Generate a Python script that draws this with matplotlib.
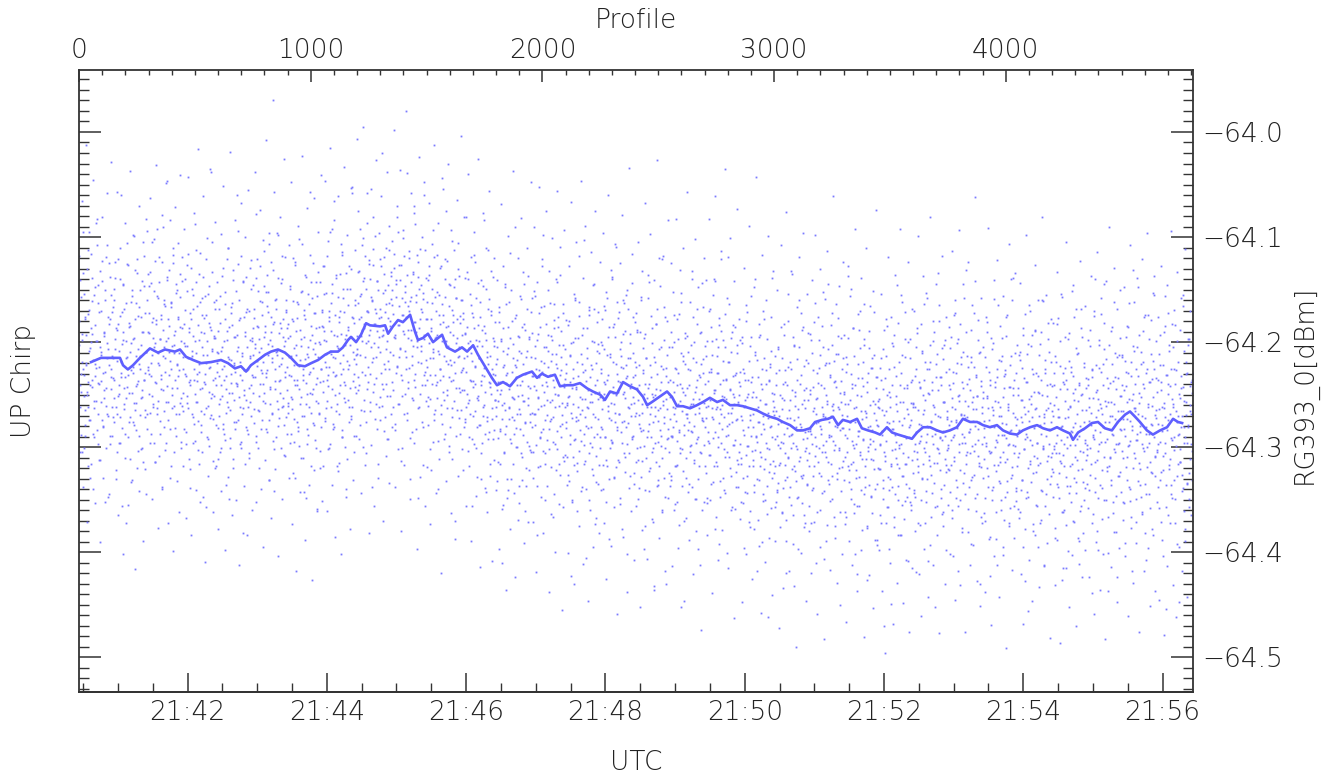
"""UP chirp power (RG393_0) per profile with running mean."""
import matplotlib
matplotlib.use("Agg")
import matplotlib.pyplot as plt
import numpy as np
from matplotlib.ticker import MultipleLocator, FuncFormatter

# sampling: 5.01 profiles per second, profile 0 at 21:40:26.5 UTC
RATE = 5.01
T0 = 21 * 3600 + 40 * 60 + 26.5
N_PROFILES = 4808
DOT_STEP = 3

# single-profile power, milli-dB below -64 dBm
# set a: profiles 0, 3, 6, ...
dot_mdb_a = [
    180, 262, 141, 230, 305, 198, 95, 251, 176, 289, 222, 130, 247, 318, 169, 208, 274, 116, 236, 192, 340, 155, 263, 221, 87,
    199, 284, 239, 146, 312, 205, 170, 257, 123, 229, 281, 190, 352, 160, 244, 215, 108, 270, 183, 297, 138, 226, 262, 171, 234,
    253, 149, 207, 330, 188, 268, 121, 241, 296, 175, 219, 60, 282, 198, 146, 259, 233, 372, 163, 214, 290, 127, 248, 185, 311,
    201, 156, 276, 229, 99, 265, 178, 242, 320, 134, 207, 289, 167, 226, 253, 142, 301, 190, 236, 118, 271, 209, 345, 160, 224,
    172, 249, 133, 220, 287, 105, 196, 262, 151, 238, 314, 179, 92, 256, 210, 143, 275, 197, 231, 338, 124, 188, 266, 160, 215,
    296, 47, 242, 178, 209, 131, 283, 226, 163, 250, 110, 203, 305, 189, 145, 268, 221, 176, 232, 362, 157, 258, 199, 119, 214,
    266, 183, 230, 140, 297, 204, 251, 116, 238, 321, 172, 215, 268, 149, 194, 278, 236, 88, 257, 210, 166, 303, 228, 135, 245,
    190, 286, 158, 212, 347, 177, 240, 121, 263, 199, 292, 154, 225, 272, 186, 38, 249, 208, 313, 162, 234, 196, 279, 143, 220,
    189, 270, 232, 156, 301, 208, 251, 129, 287, 223, 178, 336, 245, 198, 110, 262, 216, 291, 167, 239, 184, 320, 141, 255, 228,
    195, 276, 60, 242, 205, 160, 297, 231, 118, 268, 213, 382, 176, 250, 194, 138, 284, 227, 262, 170, 310, 215, 149, 241, 199,
    212, 248, 168, 206, 289, 78, 223, 151, 265, 197, 240, 128, 283, 174, 219, 256, 147, 312, 185, 233, 136, 166, 202, 274, 107,
    243, 190, 268, 215, -30, 342, 181, 226, 290, 159, 208, 264, 98, 237, 182, 301, 221, 140, 253, 195, 279, 119, 228, 171, 246,
    183, 261, 214, 147, 296, 232, 178, 254, 120, 273, 206, 329, 189, 241, 162, 285, 223, 102, 259, 197, 310, 151, 236, 270, 174,
    216, 348, 138, 249, 205, 288, 164, 228, 57, 267, 193, 245, 125, 279, 211, 172, 301, 234, 156, 258, 200, 320, 143, 226, 185,
    169, 247, 198, 128, 275, 211, 153, 236, 302, 180, 224, 95, 262, 189, 145, 283, 214, 66, 250, 174, 231, 318, 157, 206, 268,
    135, 241, 192, 290, 114, 226, 171, 257, 203, 340, 149, 218, 186, 276, 128, 244, 195, 53, 262, 177, 230, 305, 160, 212, 248,
    211, 133, 246, 178, 92, 265, 154, 199, 300, 142, 187, 231, 118, 276, 170, 58, 224, 193, 140, 257, 205, 161, 338, 127, 183,
    240, 99, 214, 172, 283, 150, 195, 262, 121, 229, 176, 20, 245, 188, 135, 271, 207, 164, 292, 146, 218, 112, 251, 180, 159,
    150, 238, 173, 116, 284, 196, 141, 223, 70, 259, 184, 127, 207, 313, 158, 236, 101, 192, 268, 147, 176, 226, 39, 244, 166,
    120, 291, 198, 157, 213, 133, 255, 181, 88, 230, 162, 205, 348, 138, 187, 249, 111, 220, 171, 276, 153, 197, 60, 241, 178,
    236, 162, 279, 201, 128, 254, 187, 322, 149, 215, 93, 268, 196, 170, 241, 117, 294, 208, 155, 226, 183, 260, 44, 232, 174,
    213, 140, 287, 199, 250, 123, 221, 166, 305, 190, 237, 104, 263, 181, 148, 219, 370, 158, 244, 196, 130, 272, 205, 175, 228,
    265, 227, 178, 322, 246, 192, 276, 81, 213, 258, 140, 290, 199, 236, 165, 356, 218, 270, 187, 240, 124, 301, 204, 253, 144,
    279, 215, 176, 330, 241, 188, 262, 84, 232, 287, 149, 198, 275, 112, 221, 159, 316, 243, 170, 226, 292, 138, 204, 255, 181,
    270, 216, 246, 314, 171, 238, 285, 199, 410, 260, 187, 222, 305, 145, 280, 231, 348, 206, 262, 162, 292, 240, 330, 180, 253,
    215, 274, 90, 300, 224, 268, 194, 251, 337, 156, 283, 210, 237, 309, 133, 256, 188, 361, 229, 295, 168, 242, 322, 197, 276,
    171, 281, 232, 329, 151, 268, 215, 298, 246, 384, 192, 264, 227, 318, 167, 286, 241, 98, 304, 220, 274, 350, 205, 255, 293,
    208, 283, 231, 163, 319, 255, 198, 271, 345, 187, 249, 140, 302, 225, 176, 316, 261, 109, 290, 214, 269, 357, 203, 243, 307,
    282, 229, 258, 326, 184, 251, 297, 212, 423, 272, 200, 234, 317, 158, 292, 243, 361, 219, 274, 175, 304, 252, 342, 193, 265,
    228, 287, 103, 313, 237, 280, 206, 263, 350, 169, 296, 222, 249, 321, 146, 268, 200, 373, 241, 308, 181, 254, 335, 210, 290,
    301, 226, 178, 264, 340, 207, 249, 290, 152, 318, 236, 195, 272, 387, 214, 258, 131, 296, 243, 183, 329, 267, 221, 109, 284,
    247, 312, 171, 238, 354, 200, 276, 225, 160, 306, 253, 189, 281, 232, 402, 168, 263, 215, 327, 240, 144, 292, 210, 258, 335,
    231, 314, 267, 190, 349, 278, 222, 300, 157, 328, 259, 206, 284, 397, 240, 192, 310, 253, 136, 285, 342, 222, 268, 175, 305,
    249, 371, 214, 296, 262, 183, 337, 230, 275, 120, 318, 246, 205, 289, 360, 226, 271, 167, 301, 254, 430, 212, 283, 238, 325,
    252, 327, 125, 289, 238, 281, 200, 354, 263, 318, 178, 294, 229, 374, 256, 306, 162, 337, 244, 213, 288, 446, 221, 310, 268,
    194, 343, 276, 241, 299, 285, 203, 338, 259, 176, 312, 247, 380, 219, 292, 148, 330, 267, 233, 305, 190, 360, 274, 216, 298,
    240, 318, 272, 199, 353, 286, 228, 307, 168, 335, 263, 212, 291, 140, 246, 378, 197, 314, 262, 229, 300, 184, 347, 268, 113,
    283, 236, 329, 271, 205, 309, 254, 401, 219, 288, 164, 320, 245, 196, 276, 357, 232, 298, 259, 186, 324, 210, 273, 338, 250,
    305, 228, 352, 270, 195, 329, 262, 396, 236, 307, 165, 344, 281, 249, 318, 204, 376, 289, 233, 312, 268, 343, 140, 303, 252,
    295, 217, 369, 276, 331, 193, 309, 245, 390, 270, 321, 178, 350, 259, 227, 301, 462, 237, 324, 281, 208, 358, 290, 256, 313,
    269, 357, 292, 229, 343, 205, 278, 317, 250, 376, 295, 215, 264, 339, 183, 306, 238, 420, 272, 328, 224, 289, 347, 255, 301,
    132, 287, 365, 203, 318, 247, 281, 332, 216, 397, 264, 160, 309, 231, 281, 353, 186, 326, 246, 304, 372, 217, 291, 336, 255,
    318, 246, 285, 372, 210, 297, 339, 263, 181, 308, 254, 410, 229, 276, 325, 198, 360, 287, 241, 305, 152, 270, 342, 222, 294,
    389, 259, 207, 314, 276, 233, 351, 289, 172, 327, 265, 218, 298, 375, 243, 281, 330, 194, 264, 303, 450, 237, 319, 282, 215,
    249, 331, 288, 214, 366, 305, 259, 137, 322, 276, 230, 349, 294, 187, 314, 263, 402, 241, 297, 356, 221, 285, 328, 170, 307,
    266, 379, 234, 292, 345, 203, 318, 271, 426, 247, 300, 189, 336, 280, 225, 311, 363, 256, 294, 212, 340, 274, 233, 388, 262,
    320, 263, 297, 365, 215, 288, 331, 245, 470, 308, 234, 266, 357, 185, 328, 277, 397, 252, 316, 201, 338, 283, 376, 224, 302,
    259, 310, 146, 350, 275, 320, 241, 297, 384, 212, 327, 257, 289, 351, 171, 316, 244, 408, 268, 339, 197, 279, 355, 236, 312,
    262, 341, 297, 380, 226, 305, 187, 324, 278, 421, 244, 289, 350, 208, 316, 265, 236, 372, 295, 153, 330, 281, 248, 308, 393,
    219, 276, 344, 260, 199, 315, 287, 452, 233, 301, 356, 270, 180, 322, 291, 241, 364, 206, 285, 336, 257, 311, 228, 398, 273,
    301, 226, 279, 343, 195, 317, 262, 404, 239, 288, 160, 331, 274, 220, 356, 251, 297, 183, 322, 268, 238, 377, 209, 290, 345,
    256, 131, 305, 271, 224, 338, 286, 246, 392, 214, 299, 264, 172, 326, 280, 233, 361, 251, 308, 198, 276, 430, 242, 319, 267,
    247, 329, 290, 214, 370, 299, 253, 181, 338, 274, 423, 236, 305, 262, 350, 201, 317, 281, 243, 387, 226, 295, 165, 332, 270,
    309, 218, 360, 288, 252, 403, 232, 314, 278, 194, 343, 259, 298, 375, 222, 285, 140, 326, 267, 244, 356, 299, 210, 339, 273,
    318, 250, 367, 284, 209, 341, 276, 225, 395, 262, 302, 173, 348, 287, 238, 320, 456, 254, 293, 204, 333, 271, 380, 230, 308,
    264, 188, 355, 296, 247, 317, 212, 372, 279, 236, 342, 160, 301, 268, 412, 226, 289, 330, 251, 197, 364, 283, 240, 309, 276,
    321, 270, 302, 229, 386, 252, 296, 335, 177, 264, 348, 223, 313, 281, 426, 238, 307, 360, 195, 272, 328, 245, 290, 399, 218,
    261, 337, 285, 151, 316, 232, 371, 255, 298, 344, 206, 268, 322, 411, 241, 280, 356, 187, 249, 305, 382, 224, 293, 339, 265,
    302, 241, 358, 275, 204, 326, 267, 439, 233, 290, 170, 343, 284, 222, 312, 380, 254, 297, 198, 336, 263, 228, 368, 281, 145,
    309, 256, 350, 216, 292, 401, 244, 318, 270, 189, 331, 287, 237, 363, 259, 305, 210, 346, 276, 424, 234, 296, 251, 324, 266,
    304, 212, 352, 283, 246, 391, 228, 309, 273, 186, 338, 254, 294, 366, 219, 280, 131, 320, 263, 240, 349, 293, 205, 332, 268,
    248, 321, 286, 209, 364, 297, 240, 176, 335, 272, 407, 226, 300, 259, 345, 197, 314, 278, 235, 378, 218, 290, 155, 327, 265,
    272, 305, 236, 278, 358, 193, 246, 324, 285, 222, 404, 263, 296, 156, 336, 231, 274, 365, 208, 311, 242, 291, 348, 183, 259,
    303, 226, 372, 266, 327, 199, 288, 249, 447, 314, 232, 281, 342, 166, 296, 256, 389, 219, 269, 334, 203, 279, 357, 242, 311,
    268, 331, 229,
]
# set b: profiles 1, 4, 7, ...
dot_mdb_b = [
    203, 241, 288, 157, 219, 226, 134, 301, 265, 178, 193, 250, 112, 238, 274, 206, 329, 187, 161, 243, 217, 290, 148, 232, 256,
    199, 83, 268, 224, 171, 312, 209, 237, 142, 280, 194, 253, 228, 119, 261, 201, 347, 176, 222, 289, 155, 245, 213, 167, 271,
    236, 197, 124, 262, 305, 218, 183, 249, 271, 140, 229, 202, 356, 190, 244, 168, 287, 215, 253, 106, 231, 276, 186, 209, 333,
    162, 248, 224, 197, 279, 131, 258, 213, 240, 304, 175, 221, 269, 150, 203, 246, 190, 314, 236, 172, 265, 209, 94, 283, 227,
    191, 230, 267, 144, 212, 251, 177, 296, 205, 123, 239, 183, 263, 220, 158, 308, 197, 235, 174, 79, 246, 213, 281, 166, 228,
    199, 141, 274, 257, 185, 218, 329, 162, 244, 204, 117, 261, 193, 236, 289, 150, 222, 178, 268, 210, 135, 253, 301, 187, 226,
    248, 201, 169, 286, 232, 127, 263, 215, 190, 339, 241, 178, 208, 271, 155, 226, 294, 199, 112, 257, 237, 184, 316, 221, 162,
    279, 205, 244, 138, 268, 191, 230, 357, 174, 212, 261, 147, 299, 224, 188, 253, 105, 236, 273, 196, 320, 168, 241, 209, 282,
    210, 259, 182, 305, 241, 137, 226, 278, 199, 164, 293, 232, 257, 121, 214, 349, 186, 265, 230, 172, 248, 311, 195, 220, 283,
    151, 239, 208, 274, 94, 252, 219, 177, 301, 236, 263, 142, 227, 190, 316, 255, 205, 168, 287, 244, 213, 129, 270, 231, 196,
    233, 177, 264, 202, 139, 295, 218, 186, 251, 320, 161, 227, 206, 274, 103, 240, 195, 258, 152, 229, 286, 212, 171, 331, 198,
    245, 124, 267, 219, 183, 302, 237, 160, 209, 256, 96, 280, 223, 191, 248, 144, 215, 262, 178, 307, 204, 233, 169, 271, 187,
    258, 196, 231, 149, 287, 213, 264, 180, 325, 222, 241, 127, 203, 276, 236, 164, 299, 217, 188, 252, 107, 270, 226, 195, 343,
    178, 239, 211, 283, 154, 230, 262, 198, 318, 143, 249, 207, 225, 172, 293, 256, 187, 361, 214, 133, 267, 238, 202, 281, 171,
    186, 237, 154, 272, 219, 199, 118, 256, 231, 176, 301, 208, 163, 245, 92, 228, 281, 193, 215, 139, 266, 204, 323, 181, 248,
    170, 230, 107, 290, 212, 158, 253, 197, 241, 134, 311, 188, 226, 262, 149, 203, 273, 176, 58, 237, 216, 289, 165, 221, 194,
    207, 163, 241, 132, 279, 194, 176, 228, 101, 255, 183, 214, 149, 306, 170, 238, 199, 122, 266, 188, 157, 219, 247, 81, 201,
    273, 168, 234, 142, 189, 316, 177, 252, 209, 128, 261, 194, 153, 285, 221, 171, 240, 110, 199, 292, 163, 226, 185, 137, 268,
    165, 212, 246, 129, 193, 278, 157, 224, 184, 95, 259, 206, 141, 231, 174, 301, 189, 118, 249, 162, 214, 267, 136, 196, 225,
    170, 330, 188, 143, 253, 204, 77, 236, 181, 155, 283, 199, 219, 124, 262, 178, 208, 146, 241, 317, 159, 193, 228, 112, 256,
    224, 178, 261, 136, 215, 302, 189, 240, 163, 207, 119, 274, 231, 195, 253, 152, 340, 211, 174, 236, 268, 128, 199, 247, 181,
    292, 157, 218, 75, 263, 204, 185, 233, 146, 281, 222, 169, 311, 193, 256, 140, 229, 201, 265, 178, 106, 244, 213, 287, 160,
    193, 246, 172, 281, 215, 139, 262, 228, 186, 304, 201, 255, 154, 237, 210, 292, 176, 243, 117, 266, 223, 198, 328, 184, 251,
    215, 162, 279, 237, 204, 296, 147, 260, 225, 191, 343, 209, 271, 168, 238, 286, 213, 249, 132, 273, 230, 199, 312, 255, 221,
    262, 205, 291, 238, 167, 316, 249, 197, 273, 355, 224, 258, 148, 287, 239, 211, 330, 186, 263, 245, 115, 296, 228, 271, 202,
    344, 254, 177, 282, 233, 217, 369, 195, 264, 241, 306, 159, 250, 221, 288, 183, 276, 230, 320, 208, 253, 137, 299, 244, 268,
    214, 267, 191, 305, 242, 156, 279, 226, 337, 198, 252, 233, 172, 291, 218, 261, 128, 283, 205, 247, 316, 183, 238, 269, 150,
    224, 302, 257, 194, 273, 211, 366, 236, 179, 262, 297, 221, 143, 285, 250, 203, 326, 231, 189, 258, 278, 164, 240, 313, 207,
    276, 221, 309, 252, 180, 332, 238, 267, 201, 350, 259, 226, 293, 160, 271, 245, 315, 196, 262, 118, 284, 239, 211, 338, 254,
    187, 298, 227, 271, 405, 215, 262, 246, 174, 306, 233, 281, 199, 257, 326, 168, 290, 248, 220, 367, 236, 273, 202, 317, 252,
    229, 281, 203, 317, 255, 166, 290, 240, 352, 212, 266, 231, 186, 301, 247, 274, 138, 295, 219, 259, 328, 195, 250, 281, 162,
    237, 314, 268, 207, 286, 224, 378, 249, 192, 275, 309, 234, 155, 297, 262, 215, 339, 244, 201, 270, 290, 176, 252, 325, 219,
    270, 224, 301, 188, 255, 339, 241, 282, 160, 267, 313, 229, 249, 196, 375, 258, 215, 290, 244, 143, 278, 320, 233, 262, 187,
    301, 252, 436, 219, 270, 245, 168, 295, 331, 207, 263, 284, 238, 121, 310, 256, 198, 277, 347, 225, 264, 180, 291, 249, 305,
    236, 289, 331, 205, 262, 247, 174, 318, 275, 226, 352, 259, 197, 284, 240, 301, 153, 266, 323, 218, 279, 250, 191, 367, 244,
    272, 209, 335, 261, 227, 298, 132, 286, 254, 315, 200, 268, 243, 349, 183, 290, 231, 263, 412, 221, 306, 249, 275, 167, 258,
    281, 213, 262, 348, 237, 294, 170, 255, 307, 226, 271, 199, 333, 248, 286, 142, 264, 229, 318, 205, 277, 392, 240, 189, 296,
    260, 218, 341, 252, 173, 289, 235, 305, 267, 119, 278, 246, 327, 209, 263, 298, 184, 252, 359, 231, 274, 203, 312, 259, 238,
    297, 242, 316, 201, 274, 353, 229, 288, 261, 180, 327, 252, 299, 218, 371, 269, 238, 156, 304, 281, 247, 336, 212, 290, 264,
    418, 233, 276, 195, 318, 255, 287, 226, 345, 170, 283, 259, 311, 240, 197, 364, 272, 236, 302, 221, 280, 139, 329, 266, 249,
    262, 318, 241, 352, 289, 207, 334, 270, 301, 186, 276, 363, 240, 296, 255, 317, 227, 389, 282, 154, 309, 265, 338, 219, 288,
    246, 321, 195, 274, 432, 251, 299, 236, 348, 271, 205, 313, 284, 172, 327, 259, 292, 223, 376, 263, 301, 244, 335, 191, 285,
    306, 249, 283, 198, 341, 266, 227, 318, 290, 163, 277, 253, 362, 239, 301, 212, 280, 327, 185, 262, 298, 244, 406, 271, 220,
    309, 256, 145, 288, 335, 231, 270, 316, 203, 259, 294, 366, 237, 280, 211, 325, 262, 177, 301, 248, 284, 342, 226, 269, 313,
    247, 309, 362, 228, 291, 270, 196, 333, 283, 255, 149, 316, 240, 298, 354, 213, 276, 322, 262, 421, 234, 289, 188, 305, 251,
    341, 273, 219, 293, 164, 328, 266, 311, 238, 377, 281, 206, 297, 260, 346, 225, 284, 312, 171, 267, 302, 244, 393, 279, 256,
    321, 254, 298, 372, 236, 285, 207, 339, 269, 313, 178, 294, 250, 357, 283, 226, 330, 262, 449, 241, 303, 275, 193, 345, 288,
    232, 316, 266, 384, 219, 298, 257, 155, 327, 279, 306, 244, 368, 214, 291, 335, 264, 200, 309, 281, 352, 238, 274, 415, 259,
    258, 304, 232, 347, 286, 191, 318, 265, 296, 374, 243, 279, 210, 330, 268, 164, 301, 255, 342, 226, 287, 408, 249, 312, 203,
    275, 326, 238, 180, 297, 262, 357, 221, 284, 315, 246, 134, 306, 271, 233, 340, 293, 216, 362, 257, 289, 198, 324, 266, 303,
    298, 241, 322, 206, 275, 360, 253, 290, 174, 313, 264, 229, 348, 282, 197, 305, 250, 431, 269, 221, 287, 334, 244, 158, 296,
    272, 316, 213, 261, 381, 235, 283, 306, 188, 257, 328, 275, 224, 297, 142, 264, 345, 251, 293, 210, 318, 277, 237, 366, 262,
    253, 311, 275, 348, 224, 296, 190, 327, 263, 304, 385, 241, 280, 207, 338, 269, 159, 300, 256, 323, 233, 412, 288, 217, 314,
    262, 350, 196, 277, 305, 244, 369, 227, 291, 176, 332, 265, 243, 297, 358, 213, 284, 319, 250, 139, 306, 271, 229, 342, 289,
    309, 244, 285, 362, 217, 271, 331, 255, 193, 302, 268, 427, 238, 290, 211, 347, 275, 165, 316, 259, 298, 226, 373, 282, 247,
    189, 324, 263, 310, 232, 395, 270, 202, 287, 341, 250, 161, 299, 277, 229, 356, 265, 313, 241, 182, 297, 335, 258, 219, 306,
    266, 324, 241, 299, 377, 219, 288, 183, 338, 271, 306, 245, 154, 315, 280, 362, 229, 297, 256, 415, 236, 301, 271, 197, 344,
    262, 318, 224, 286, 370, 248, 176, 309, 277, 333, 211, 292, 256, 389, 239, 304, 168, 321, 265, 283, 350, 220, 296, 244, 312,
    298, 235, 341, 262, 188, 316, 279, 227, 364, 253, 292, 140, 329, 271, 246, 304, 398, 225, 286, 259, 173, 322, 268, 241, 350,
    207, 295, 261, 319, 234, 437, 276, 203, 310, 257, 336, 221, 288, 162, 302, 273, 245, 381, 214, 297, 266, 327, 196, 283, 251,
    241, 310, 266, 353, 218, 289, 195, 331, 257, 299, 163, 275, 340, 232, 284, 418, 249, 208, 306, 263, 371, 226, 293, 148, 315,
    258, 280, 221, 347, 270, 189, 301, 244, 382, 229, 287, 319, 174, 262, 296, 238, 358, 211, 279, 325, 252, 137, 308, 269, 234,
    303, 247, 338, 264, 211, 295, 371, 238, 279, 322, 190, 258, 306, 231, 454, 284, 249, 172, 317, 268, 226, 345, 293, 205, 262,
    331, 240, 184, 299, 276, 392, 219, 287, 314, 253, 158, 326, 270, 243, 361, 208, 290, 257, 335, 229, 281, 197, 349, 266, 238,
    297, 236, 318,
]
# set c: profiles 2, 5, 8, ...
dot_mdb_c = [
    118, 305, 247, 66, 192, 338, 231, 154, 279, 12, 220, 371, 173, 262, 95, 241, 316, 200, 139, 287, 46, 256, 184, 353, 225,
    108, 297, 163, 240, 390, 132, 212, 274, 81, 329, 191, 246, 150, 301, 58, 268, 207, 125, 345, 178, 233, 29, 289, 215, 160,
    276, 139, 322, 187, 57, 251, 365, 208, 110, 296, 233, 171, 402, 145, 264, 87, 310, 199, 243, 126, 355, 182, 37, 271, 227,
    150, 331, 98, 258, 196, 416, 163, 284, 121, 237, 342, 70, 213, 302, 176, 252, 105, 389, 147, 229, 321, 83, 268, 190, 135,
    147, 296, 63, 232, 349, 181, 259, 102, 314, 201, 31, 268, 156, 377, 222, 119, 287, 178, 245, 340, 90, 205, 164, 303, 49,
    257, 138, 372, 196, 231, 84, 318, 167, 263, 125, 399, 210, 71, 282, 153, 244, 332, 106, 227, 186, 41, 295, 142, 261, 318,
    92, 283, 204, 367, 151, 258, 43, 311, 187, 236, 129, 384, 213, 168, 296, 77, 249, 341, 143, 230, 16, 275, 198, 352, 115,
    266, 174, 305, 61, 238, 409, 156, 220, 290, 101, 327, 182, 247, 35, 269, 207, 133, 362, 194, 251, 86, 318, 160, 228, 378,
    311, 168, 254, 97, 342, 205, 283, 51, 236, 398, 152, 267, 189, 328, 110, 248, 19, 301, 217, 163, 365, 131, 276, 222, 84,
    350, 193, 240, 126, 412, 179, 262, 68, 295, 210, 143, 337, 246, 100, 281, 171, 384, 226, 55, 306, 198, 257, 122, 360, 187,
    146, 277, 38, 233, 352, 185, 121, 301, 209, 266, 74, 340, 162, 229, 395, 113, 248, 190, 8, 283, 227, 152, 331, 96, 259,
    176, 367, 204, 131, 294, 57, 245, 321, 168, 212, 404, 139, 272, 81, 236, 187, 349, 118, 261, 26, 308, 199, 160, 287, 224,
    267, 108, 329, 194, 252, 48, 373, 161, 236, 295, 124, 212, 418, 177, 281, 89, 245, 343, 152, 204, 23, 310, 231, 169, 388,
    136, 259, 72, 297, 214, 336, 117, 248, 185, 426, 158, 277, 63, 322, 201, 240, 143, 359, 95, 268, 186, 304, 41, 226, 351,
    128, 318, 189, 47, 263, 224, 361, 104, 242, 170, 297, 15, 211, 336, 153, 278, 84, 232, 385, 136, 194, 259, 61, 315, 176,
    220, 402, 117, 284, 149, 238, 33, 300, 193, 347, 98, 255, 165, 222, 378, 130, 270, 52, 209, 331, 182, 243, 112, 289, 7,
    233, 75, 292, 156, 212, 344, 108, 188, -5, 266, 139, 317, 201, 87, 245, 171, 382, 126, 230, 54, 298, 160, 215, 111, 356,
    183, 27, 259, 142, 205, 329, 96, 274, 168, 61, 240, 193, 370, 119, 226, 150, 308, 38, 251, 177, 89, 334, 209, 133, 281,
    104, 262, -2, 195, 338, 145, 229, 81, 302, 166, 214, 36, 380, 127, 251, 174, 93, 317, 208, 152, -20, 274, 188, 238, 113,
    349, 161, 58, 286, 222, 135, 296, 70, 243, 190, 397, 117, 263, 149, 24, 328, 204, 168, 100, 281, 231, 48, 356, 139, 217,
    319, 141, 252, 68, 231, 373, 178, 107, 295, 209, 12, 265, 157, 344, 193, 238, 87, 311, 129, 226, 420, 164, 278, 54, 200,
    255, 121, 332, 186, 246, 30, 299, 145, 217, 363, 93, 271, 174, 236, 112, 387, 158, 289, 65, 214, 327, 137, 247, 182, 4,
    160, 302, 225, 81, 273, 191, 356, 133, 249, 40, 318, 206, 268, 119, 389, 172, 237, 297, 95, 224, 346, 158, 281, 26, 255,
    199, 414, 141, 306, 231, 77, 270, 185, 339, 247, 110, 362, 214, 292, 56, 239, 327, 174, 263, 408, 196, 120, 284, 231, 341,
    141, 332, 256, 397, 181, 283, 69, 246, 359, 208, 128, 306, 265, 436, 164, 229, 99, 341, 273, 196, 378, 150, 252, 316, 37,
    287, 222, 424, 174, 300, 241, 120, 353, 208, 268, 82, 331, 186, 256, 391, 145, 277, 214, 337, 110, 260, 371, 195, 303, 48,
    305, 158, 371, 232, 90, 268, 204, 419, 143, 319, 253, 52, 290, 186, 347, 228, 121, 382, 260, 166, 306, 75, 242, 337, 193,
    438, 132, 275, 218, 364, 101, 295, 243, 164, 400, 211, 322, 56, 250, 186, 354, 136, 280, 227, 455, 172, 309, 93, 262, 235,
    179, 336, 260, 401, 128, 288, 213, 67, 352, 244, 309, 154, 430, 196, 275, 105, 323, 232, 375, 162, 268, 47, 294, 221, 411,
    139, 316, 254, 89, 340, 187, 282, 446, 167, 257, 360, 114, 300, 226, 395, 145, 271, 75, 333, 208, 287, 171, 382, 247, 124,
    341, 200, 283, 96, 372, 238, 169, 312, 425, 158, 261, 60, 330, 211, 293, 394, 140, 248, 186, 357, 276, 107, 319, 230, 459,
    177, 268, 125, 348, 213, 296, 79, 385, 247, 163, 324, 222, 438, 150, 277, 34, 306, 192, 361, 259, 116, 289, 233, 407, 181,
    172, 356, 244, 105, 312, 269, 452, 190, 285, 132, 379, 227, 299, 68, 341, 215, 262, 406, 158, 323, 240, 97, 290, 368, 201,
    276, 141, 432, 250, 314, 183, 27, 336, 265, 386, 147, 299, 223, 362, 118, 260, 329, 176, 418, 232, 292, 84, 348, 205, 273,
    337, 190, 290, 413, 152, 268, 360, 225, 83, 317, 241, 396, 173, 286, 131, 452, 210, 302, 247, 110, 370, 196, 329, 268, 57,
    284, 226, 388, 162, 305, 259, 140, 421, 215, 280, 349, 102, 296, 236, 168, 397, 254, 318, 191, 474, 144, 272, 229, 352, 120,
    204, 325, 141, 384, 261, 296, 83, 350, 228, 186, 439, 273, 155, 318, 246, 61, 366, 213, 290, 407, 177, 264, 332, 121, 251,
    379, 198, 302, 35, 344, 236, 280, 158, 415, 219, 309, 101, 267, 360, 190, 249, 463, 142, 293, 229, 338, 73, 316, 257, 178,
    368, 198, 310, 447, 226, 284, 129, 343, 255, 402, 171, 299, 236, 89, 361, 274, 195, 425, 252, 318, 148, 378, 209, 289, 43,
    330, 262, 394, 183, 305, 458, 240, 117, 351, 278, 215, 409, 160, 296, 337, 99, 267, 386, 224, 316, 176, 441, 248, 132, 325,
    213, 389, 266, 150, 341, 298, 472, 227, 315, 108, 362, 253, 434, 193, 287, 331, 76, 369, 241, 310, 180, 418, 272, 226, 355,
    135, 296, 392, 204, 323, 261, 490, 167, 302, 347, 119, 278, 240, 401, 188, 329, 96, 365, 255, 286, 446, 154, 312, 220, 380,
    356, 192, 287, 420, 141, 327, 243, 371, 98, 299, 268, 459, 176, 314, 225, 395, 130, 283, 344, 205, 268, 483, 159, 305, 250,
    374, 113, 331, 220, 290, 417, 184, 261, 349, 61, 303, 238, 386, 164, 276, 429, 211, 320, 147, 362, 257, 196, 402, 282, 124,
    193, 373, 259, 466, 221, 318, 128, 389, 276, 156, 340, 244, 412, 187, 301, 363, 92, 329, 250, 437, 173, 285, 356, 206, 398,
    139, 311, 242, 481, 197, 338, 267, 110, 375, 229, 304, 422, 166, 292, 347, 215, 453, 151, 321, 259, 388, 74, 335, 233, 280,
    398, 225, 321, 154, 437, 265, 349, 188, 305, 496, 213, 372, 276, 119, 341, 247, 410, 176, 318, 283, 468, 204, 366, 136, 295,
    251, 429, 182, 337, 301, 92, 384, 229, 355, 162, 448, 272, 316, 197, 407, 241, 347, 124, 290, 476, 215, 360, 258, 168, 325,
    170, 344, 262, 419, 205, 311, 99, 372, 238, 294, 461, 183, 329, 250, 137, 397, 219, 305, 352, 158, 280, 443, 226, 318, 81,
    366, 246, 289, 412, 190, 334, 268, 145, 384, 211, 302, 477, 165, 290, 348, 233, 118, 375, 257, 203, 430, 176, 317, 271, 355,
    321, 186, 402, 245, 293, 113, 367, 228, 309, 445, 172, 276, 338, 201, 418, 256, 93, 350, 214, 296, 381, 145, 269, 325, 476,
    190, 307, 240, 359, 124, 286, 412, 219, 331, 165, 393, 252, 304, 62, 348, 231, 427, 179, 283, 315, 209, 451, 158, 297, 372,
    205, 363, 282, 438, 176, 320, 251, 91, 387, 228, 306, 469, 196, 341, 265, 141, 404, 238, 293, 362, 122, 317, 257, 443, 185,
    334, 270, 213, 395, 156, 288, 347, 230, 491, 174, 311, 262, 107, 372, 243, 329, 417, 160, 298, 236, 386, 134, 351, 279, 203,
    359, 212, 306, 144, 421, 255, 331, 187, 468, 234, 292, 378, 98, 343, 266, 202, 407, 170, 313, 251, 446, 193, 325, 280, 127,
    384, 229, 296, 356, 160, 433, 248, 315, 190, 369, 81, 302, 271, 413, 217, 345, 155, 391, 263, 308, 209, 482, 178, 327, 242,
    182, 347, 260, 431, 213, 306, 133, 388, 271, 325, 486, 199, 293, 362, 157, 415, 240, 318, 225, 374, 105, 337, 264, 452, 191,
    298, 352, 228, 403, 146, 281, 329, 245, 470, 168, 312, 386, 210, 289, 123, 361, 250, 424, 195, 333, 276, 166, 398, 234, 307,
    335, 198, 424, 253, 301, 137, 372, 226, 288, 459, 175, 314, 247, 390, 114, 348, 265, 203, 436, 158, 295, 339, 221, 402, 182,
    276, 483, 142, 323, 257, 366, 90, 309, 239, 414, 186, 270, 352, 129, 381, 233, 297, 447, 168, 327, 212, 396, 150, 284, 343,
    214, 369, 273, 148, 404, 242, 319, 185, 461, 229, 298, 351, 108, 377, 255, 204, 429, 162, 310, 266, 391, 139, 287, 232, 476,
    193, 336, 252, 121, 362, 219, 304, 418, 174, 281, 345, 96, 396, 238, 287, 451, 179, 324, 261, 153, 384, 226, 309, 437, 199,
    352, 176, 297, 445, 222, 331, 128, 388, 262, 308, 479, 185, 271, 357, 146, 413, 240, 321, 203, 372, 94, 336, 254, 431, 169,
    290, 349, 227, 462, 133, 316, 270, 395, 188, 302, 244, 418, 155, 339, 281, 111, 378, 230, 296, 443, 197, 325, 260, 170, 365,
    248, 304, 190,
]

# running mean
line_profile = [
    52, 95, 138, 177, 190, 211, 233, 263, 306, 341, 371, 414, 436, 462, 492, 527, 570, 613, 643, 673,
    699, 721, 742, 773, 803, 829, 859, 889, 915, 945, 975, 1002, 1032, 1062, 1088, 1118, 1139, 1161, 1174, 1196,
    1217, 1239, 1256, 1299, 1321, 1334, 1355, 1377, 1398, 1429, 1450, 1463, 1485, 1506, 1528, 1567, 1588, 1623, 1653, 1675,
    1701, 1722, 1752, 1782, 1804, 1830, 1860, 1890, 1916, 1955, 1977, 1998, 2024, 2054, 2076, 2106, 2132, 2162, 2193, 2218,
    2249, 2270, 2292, 2322, 2348, 2378, 2408, 2434, 2452, 2473, 2499, 2538, 2559, 2581, 2607, 2637, 2667, 2693, 2723, 2754,
    2779, 2810, 2840, 2866, 2896, 2926, 2952, 2982, 3013, 3038, 3069, 3099, 3125, 3155, 3177, 3207, 3233, 3254, 3276, 3297,
    3328, 3358, 3379, 3405, 3436, 3457, 3487, 3509, 3535, 3565, 3595, 3617, 3643, 3673, 3703, 3729, 3759, 3789, 3815, 3846,
    3876, 3902, 3932, 3962, 3988, 4018, 4048, 4074, 4105, 4135, 4161, 4191, 4221, 4247, 4277, 4290, 4312, 4342, 4372, 4398,
    4428, 4458, 4484, 4515, 4536, 4558, 4579, 4609, 4635, 4666, 4696, 4722, 4743, 4761,
]
line_mdb = [
    219, 215, 215, 215, 222, 226, 222, 215, 206, 210, 207, 209, 207, 214, 217, 220, 219, 217, 220, 225,
    223, 228, 222, 217, 212, 209, 207, 210, 215, 222, 223, 220, 217, 212, 209, 209, 205, 198, 195, 200,
    193, 182, 184, 185, 184, 192, 185, 179, 181, 174, 190, 198, 196, 192, 200, 193, 205, 209, 205, 209,
    203, 212, 223, 234, 241, 238, 242, 234, 231, 228, 234, 230, 233, 231, 242, 241, 241, 239, 244, 247,
    250, 255, 247, 249, 238, 242, 245, 252, 260, 257, 253, 247, 252, 261, 261, 263, 260, 257, 253, 257,
    255, 260, 260, 261, 263, 265, 268, 271, 273, 276, 279, 284, 284, 282, 276, 274, 273, 271, 279, 274,
    276, 273, 282, 284, 286, 288, 281, 286, 288, 290, 292, 286, 281, 281, 284, 286, 284, 281, 273, 276,
    276, 279, 281, 279, 284, 287, 288, 284, 281, 279, 282, 284, 281, 284, 287, 293, 286, 282, 277, 276,
    282, 284, 276, 269, 266, 271, 276, 284, 288, 284, 281, 273, 276, 277,
]

profile_ticks = [0, 1000, 2000, 3000, 4000]
power_ticks = [-64.0, -64.1, -64.2, -64.3, -64.4, -64.5]

BLUE = "#5f5fff"
DOT = "#7a7aff"
INK = "#333333"
TXT = "#222222"
FS = 19
FW = 200

plt.rcParams["font.family"] = ["DejaVu Sans"]
plt.rcParams["font.size"] = FS
plt.rcParams["font.weight"] = FW

fig = plt.figure(figsize=(13.41, 7.81), dpi=100)
ax = fig.add_axes([79 / 1341, 1 - 692 / 781, (1193 - 79) / 1341, (692 - 70) / 781])

for offset, vals in ((0, dot_mdb_a), (1, dot_mdb_b), (2, dot_mdb_c)):
    p = offset + np.arange(len(vals)) * DOT_STEP
    ax.plot(p, -64.0 - np.array(vals) / 1000.0, ls="none", marker="s",
            ms=1.3, mew=0, color=DOT)
ax.plot(line_profile, -64.0 - np.array(line_mdb) / 1000.0, color=BLUE, lw=1.9)

ax.set_xlim(0, N_PROFILES)
ax.set_ylim(-64.533, -63.941)

for s in ax.spines.values():
    s.set_color(INK)
    s.set_linewidth(1.3)

# profile axis on top
ax.xaxis.tick_top()
ax.set_xticks(profile_ticks)
ax.xaxis.set_minor_locator(MultipleLocator(100))
ax.tick_params(axis="x", which="major", direction="in", length=8.5, width=1.1,
               color=INK, pad=5, labelsize=FS, labelcolor=TXT)
ax.tick_params(axis="x", which="minor", direction="in", length=3.8, width=1.0, color=INK)

# power ticks on both sides, labels on the right
ax.set_yticks(power_ticks)
ax.yaxis.set_major_formatter(FuncFormatter(lambda v, _: f"\u2212{abs(v):.1f}"))
ax.yaxis.set_minor_locator(MultipleLocator(0.01))
ax.tick_params(axis="y", which="both", left=True, right=True, labelleft=False,
               labelright=True, direction="in", color=INK)
ax.tick_params(axis="y", which="major", length=16, width=1.1, pad=7,
               labelsize=FS, labelcolor=TXT)
ax.tick_params(axis="y", which="minor", length=7.5, width=1.0)


def p2t(p):
    return T0 + np.asarray(p) / RATE


def t2p(t):
    return (np.asarray(t) - T0) * RATE


utc = ax.secondary_xaxis("bottom", functions=(p2t, t2p))
utc.xaxis.set_major_locator(MultipleLocator(120))
utc.xaxis.set_minor_locator(MultipleLocator(30))
utc.xaxis.set_major_formatter(
    FuncFormatter(lambda s, _: f"{int(s // 3600):02d}:{int(s % 3600 // 60):02d}"))
utc.tick_params(which="major", direction="in", length=13.5, width=1.1, color=INK,
                pad=6, labelsize=FS, labelcolor=TXT)
utc.tick_params(which="minor", direction="in", length=6.5, width=1.0, color=INK)
utc.spines["bottom"].set_color(INK)
utc.spines["bottom"].set_linewidth(1.3)

for lab in ax.get_xticklabels() + ax.get_yticklabels() + utc.get_xticklabels():
    lab.set_fontweight(FW)

fig.text(636 / 1341, 1 - 21 / 781, "Profile", ha="center", va="center",
         fontsize=FS, fontweight=FW, color=TXT)
fig.text(636 / 1341, 1 - 763 / 781, "UTC", ha="center", va="center",
         fontsize=FS, fontweight=FW, color=TXT)
fig.text(24 / 1341, 1 - 381 / 781, "UP Chirp", ha="center", va="center",
         rotation=90, fontsize=FS, fontweight=FW, color=TXT)
fig.text(1305 / 1341, 1 - 384 / 781, "RG393_0[dBm]", ha="center", va="center",
         rotation=90, fontsize=FS, fontweight=FW, color=TXT)

fig.savefig("out.png", dpi=100)
